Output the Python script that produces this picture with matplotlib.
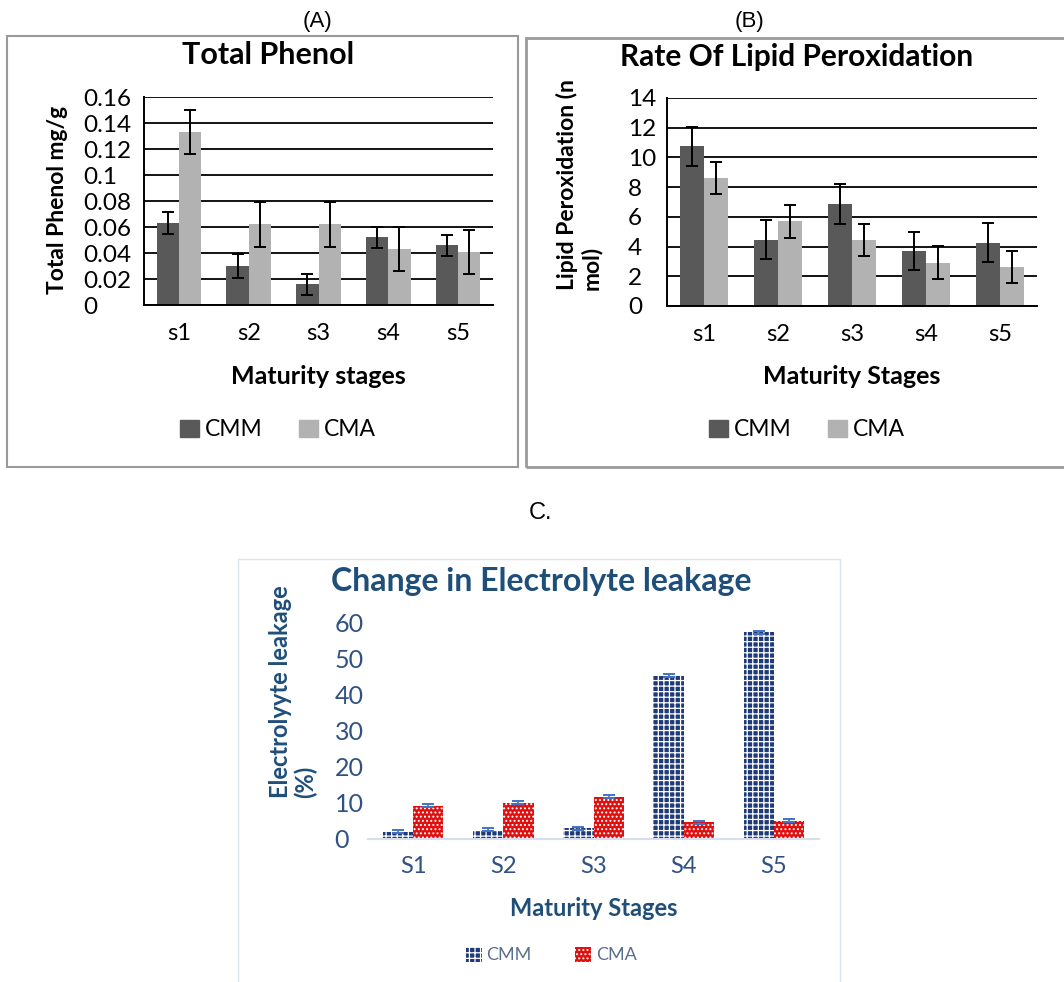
"""Three-panel figure: total phenol, lipid peroxidation and electrolyte leakage by maturity stage."""

import matplotlib

matplotlib.use("Agg")
import matplotlib.pyplot as plt
import numpy as np
from matplotlib.patches import Patch, Rectangle

W, H = 1064, 982
DPI = 100

# panel A / B data
stages_ab = ["s1", "s2", "s3", "s4", "s5"]
phenol_cmm = [0.063, 0.030, 0.016, 0.052, 0.046]
phenol_cmm_err = [0.0085, 0.009, 0.008, 0.008, 0.008]
phenol_cma = [0.133, 0.062, 0.062, 0.043, 0.041]
phenol_cma_err = [0.017, 0.017, 0.017, 0.017, 0.017]
phenol_ticks = [0, 0.02, 0.04, 0.06, 0.08, 0.1, 0.12, 0.14, 0.16]
phenol_ticklabels = ["0", "0.02", "0.04", "0.06", "0.08", "0.1", "0.12", "0.14", "0.16"]

lipid_cmm = [10.75, 4.47, 6.85, 3.71, 4.27]
lipid_cmm_err = [1.3, 1.3, 1.35, 1.3, 1.3]
lipid_cma = [8.6, 5.69, 4.47, 2.92, 2.63]
lipid_cma_err = [1.08, 1.08, 1.08, 1.1, 1.1]
lipid_ticks = [0, 2, 4, 6, 8, 10, 12, 14]

# panel C data
stages_c = ["S1", "S2", "S3", "S4", "S5"]
leak_cmm = [2.0, 2.6, 3.0, 45.4, 57.4]
leak_cma = [9.2, 10.1, 11.7, 4.7, 5.1]
leak_err = [0.4, 0.4, 0.4, 0.4, 0.4]
leak_ticks = [0, 10, 20, 30, 40, 50, 60]

FONT = ["Lato", "DejaVu Sans"]
plt.rcParams["font.family"] = FONT
plt.rcParams["hatch.linewidth"] = 0.9

CMM_HATCH = "+++"
CMA_HATCH = "...."

fig = plt.figure(figsize=(W / DPI, H / DPI), dpi=DPI)


def px_axes(left, top, right, bottom):
    return fig.add_axes([left / W, 1 - bottom / H, (right - left) / W, (bottom - top) / H])


def ftext(x, y, s, **kw):
    return fig.text(x / W, 1 - y / H, s, **kw)


def frame(x0, y0, x1, y1, color, lw):
    fig.add_artist(Rectangle((x0 / W, 1 - y1 / H), (x1 - x0) / W, (y1 - y0) / H,
                             transform=fig.transFigure, fill=False, edgecolor=color, linewidth=lw))


def grey_panel(ax, cmm, cmm_err, cma, cma_err, ticks, ticklabels, ylim, width, tick_pad):
    x = np.arange(len(stages_ab))
    ax.bar(x - width / 2, cmm, width, color="#595959", zorder=2)
    ax.bar(x + width / 2, cma, width, color="#b2b2b2", zorder=2)
    ax.errorbar(x - width / 2, cmm, yerr=cmm_err, fmt="none", ecolor="black", elinewidth=1.4, capsize=4, capthick=1.4, zorder=3)
    ax.errorbar(x + width / 2, cma, yerr=cma_err, fmt="none", ecolor="black", elinewidth=1.4, capsize=4, capthick=1.4, zorder=3)
    ax.set_xlim(-0.5, len(stages_ab) - 0.5)
    ax.set_ylim(*ylim)
    ax.set_yticks(ticks)
    ax.set_yticklabels(ticklabels)
    ax.set_xticks(x)
    ax.set_xticklabels(stages_ab)
    for lab in ax.get_yticklabels():
        lab.set_horizontalalignment("left")
    ax.tick_params(axis="y", length=0, pad=tick_pad, labelsize=17.5)
    ax.tick_params(axis="x", length=0, pad=13, labelsize=17)
    ax.yaxis.grid(True, color="black", linewidth=1.3)
    ax.set_axisbelow(True)
    for side in ("top", "right"):
        ax.spines[side].set_visible(False)
    for side in ("left", "bottom"):
        ax.spines[side].set_linewidth(1.4)
    ax.set_facecolor("white")


# frames
frame(7, 36, 518, 467, "#9a9a9a", 1.5)
frame(526, 38, 1070, 467, "#9a9a9a", 2.0)
frame(238, 559, 840, 990, "#dde3ec", 1.0)

# panel A
ax_a = px_axes(144, 97, 493, 305)
grey_panel(ax_a, phenol_cmm, phenol_cmm_err, phenol_cma, phenol_cma_err,
           phenol_ticks, phenol_ticklabels, (0, 0.16), 0.32, 44)
ftext(317, 22, "(A)", ha="center", va="center", fontsize=16, family=["Liberation Sans"])
ftext(268, 55, "Total Phenol", ha="center", va="center", fontsize=22, fontweight="bold")
ftext(57, 200, "Total Phenol mg/g", ha="center", va="center", rotation=90, fontsize=16.5, fontweight="bold")
ftext(318, 377, "Maturity stages", ha="center", va="center", fontsize=18, fontweight="bold")
handles = [Patch(color="#595959", label="CMM"), Patch(color="#b2b2b2", label="CMA")]
fig.legend(handles=handles, loc="center", bbox_to_anchor=(278 / W, 1 - 430 / H), ncol=2, frameon=False,
           fontsize=16.5, handlelength=0.82, handleheight=0.7, handletextpad=0.25, columnspacing=1.6)

# panel B
ax_b = px_axes(667, 98, 1037, 306)
grey_panel(ax_b, lipid_cmm, lipid_cmm_err, lipid_cma, lipid_cma_err,
           lipid_ticks, [str(t) for t in lipid_ticks], (0, 14), 0.325, 28)
ftext(749, 22, "(B)", ha="center", va="center", fontsize=16, family=["Liberation Sans"])
ftext(797, 57, "Rate Of Lipid Peroxidation", ha="center", va="center", fontsize=21.5, fontweight="bold")
ftext(579, 185, "Lipid Peroxidation (n\nmol)", ha="center", va="center", rotation=90, fontsize=16.5,
      fontweight="bold", multialignment="left", linespacing=1.15)
ftext(852, 377, "Maturity Stages", ha="center", va="center", fontsize=18, fontweight="bold")
fig.legend(handles=handles, loc="center", bbox_to_anchor=(807 / W, 1 - 430 / H), ncol=2, frameon=False,
           fontsize=16.5, handlelength=0.82, handleheight=0.7, handletextpad=0.25, columnspacing=1.6)

# panel C
NAVY = "#1f4e79"
ax_c = px_axes(368, 623, 819, 839)
xc = np.arange(len(stages_c))
wc = 0.335
ax_c.bar(xc - wc / 2, leak_cmm, wc, color="#1f3a78", edgecolor="white", linewidth=0, hatch=CMM_HATCH, zorder=2)
ax_c.bar(xc + wc / 2, leak_cma, wc, color="#e01010", edgecolor="white", linewidth=0, hatch=CMA_HATCH, zorder=2)
ax_c.errorbar(xc - wc / 2, leak_cmm, yerr=leak_err, fmt="none", ecolor="#4472c4", elinewidth=1.2, capsize=4, capthick=1.4, zorder=3)
ax_c.errorbar(xc + wc / 2, leak_cma, yerr=leak_err, fmt="none", ecolor="#4472c4", elinewidth=1.2, capsize=4, capthick=1.4, zorder=3)
ax_c.set_xlim(-0.5, len(stages_c) - 0.5)
ax_c.set_ylim(0, 60)
ax_c.set_yticks(leak_ticks)
ax_c.set_xticks(xc)
ax_c.set_xticklabels(stages_c)
for lab in ax_c.get_yticklabels():
    lab.set_horizontalalignment("left")
ax_c.tick_params(axis="y", length=0, pad=24, labelsize=18, labelcolor="#2f5184")
ax_c.tick_params(axis="x", length=0, pad=12, labelsize=17, labelcolor="#2f5184")
for side in ("top", "right", "left"):
    ax_c.spines[side].set_visible(False)
ax_c.spines["bottom"].set_color("#d6dff0")
ax_c.spines["bottom"].set_linewidth(1.5)

ftext(540, 513, "C.", ha="center", va="center", fontsize=17, family=["Liberation Sans"])
ftext(541, 582, "Change in Electrolyte leakage", ha="center", va="center", fontsize=23, fontweight="bold", color=NAVY)
ftext(293, 798, "Electrolyyte leakage\n(%)", ha="center", va="bottom", rotation=90, fontsize=17,
      fontweight="bold", color=NAVY, multialignment="left", linespacing=1.1)
ftext(594, 909, "Maturity Stages", ha="center", va="center", fontsize=17, fontweight="bold", color=NAVY)
handles_c = [Patch(facecolor="#1f3a78", edgecolor="white", hatch=CMM_HATCH, linewidth=0, label="CMM"),
             Patch(facecolor="#e01010", edgecolor="white", hatch=CMA_HATCH, linewidth=0, label="CMA")]
leg = fig.legend(handles=handles_c, loc="center", bbox_to_anchor=(551 / W, 1 - 955 / H), ncol=2, frameon=False,
                 fontsize=13, handlelength=0.9, handleheight=0.9, handletextpad=0.25, columnspacing=2.4)
for t in leg.get_texts():
    t.set_color("#5a6f8f")

fig.savefig("out.png", dpi=DPI)
